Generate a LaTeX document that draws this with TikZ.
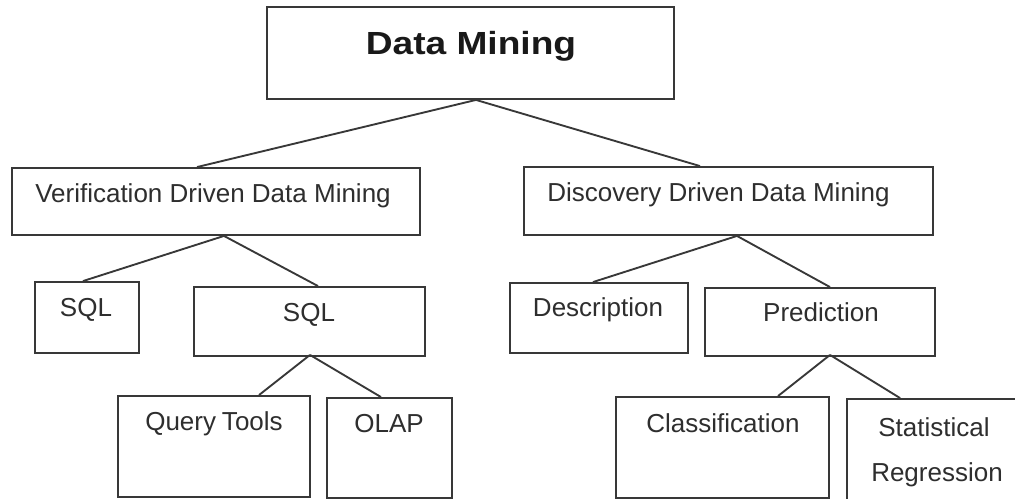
\documentclass[tikz,border=0pt]{standalone}
\usepackage{fontspec}
\setmainfont{Liberation Sans}
\usetikzlibrary{fit,calc}

\tikzset{
  box/.style={draw=black!78, line width=1.4pt, inner sep=0pt, rectangle},
  lbl/.style={text=black!82, font=\fontsize{19.5pt}{23pt}\selectfont, inner sep=0pt, anchor=base},
  title/.style={text=black!90, font=\fontsize{24pt}{28pt}\selectfont\bfseries, inner sep=0pt, anchor=base},
  link/.style={draw=black!78, line width=1.4pt},
}

\begin{document}
\begin{tikzpicture}[x=0.75pt, y=-0.75pt]
  \useasboundingbox (0,0) rectangle (1015,499);
  \clip (0,0) rectangle (1015,499);
  \fill[white] (0,0) rectangle (1015,499);

  % boxes
  \node[box, fit={(267,7) (674,99)}] (dm) {};
  \node[box, fit={(12,168) (420,235)}] (vd) {};
  \node[box, fit={(524,167) (933,235)}] (dd) {};
  \node[box, fit={(35,282) (139,353)}] (sqla) {};
  \node[box, fit={(194,287) (425,356)}] (sqlb) {};
  \node[box, fit={(510,283) (688,353)}] (desc) {};
  \node[box, fit={(705,288) (935,356)}] (pred) {};
  \node[box, fit={(118,396) (310,497)}] (qt) {};
  \node[box, fit={(327,398) (452,498)}] (olap) {};
  \node[box, fit={(616,397) (829,498)}] (cls) {};
  \node[box, fit={(847,399) (1120,560)}] (stat) {};

  % labels
  \node[title] (dm-t) at (471,55) {\scalebox{1.16}[1]{Data Mining}};
  \node[lbl] (vd-t) at (213,203) {Verification Driven Data Mining};
  \node[lbl] (dd-t) at (718.5,202) {Discovery Driven Data Mining};
  \node[lbl] (sqla-t) at (86,317) {SQL};
  \node[lbl] (sqlb-t) at (309,321) {SQL};
  \node[lbl] (desc-t) at (598,317) {Description};
  \node[lbl] (pred-t) at (821,321) {Prediction};
  \node[lbl] (qt-t) at (214,431) {Query\kern-0.05em\ Tools};
  \node[lbl] (olap-t) at (389,432) {OLAP};
  \node[lbl] (cls-t) at (723,432) {Classification};
  \node[lbl] (stat-t) at (934,436) {Statistical};
  \node[lbl] (stat-t2) at (937,481) {Regression};

  % connectors
  \draw[link] ($(dm.south)+(5.5,0)$) -- ($(vd.north)+(-19,0)$);
  \draw[link] ($(dm.south)+(5.5,0)$) -- ($(dd.north)+(-28.5,0)$);
  \draw[link] ($(vd.south)+(8,0)$) -- ($(sqla.north)+(-4,0)$);
  \draw[link] ($(vd.south)+(8,0)$) -- ($(sqlb.north)+(8.5,0)$);
  \draw[link] ($(sqlb.south)+(0.5,-2)$) -- ($(qt.north)+(45,0)$);
  \draw[link] ($(sqlb.south)+(0.5,-2)$) -- ($(olap.north)+(-8.5,0)$);
  \draw[link] ($(dd.south)+(8.5,0)$) -- ($(desc.north)+(-6,0)$);
  \draw[link] ($(dd.south)+(8.5,0)$) -- ($(pred.north)+(10,0)$);
  \draw[link] ($(pred.south)+(10,-2)$) -- ($(cls.north)+(55.5,0)$);
  \draw[link] ($(pred.south)+(10,-2)$) -- ($(stat.north west)+(54,0)$);
\end{tikzpicture}
\end{document}
